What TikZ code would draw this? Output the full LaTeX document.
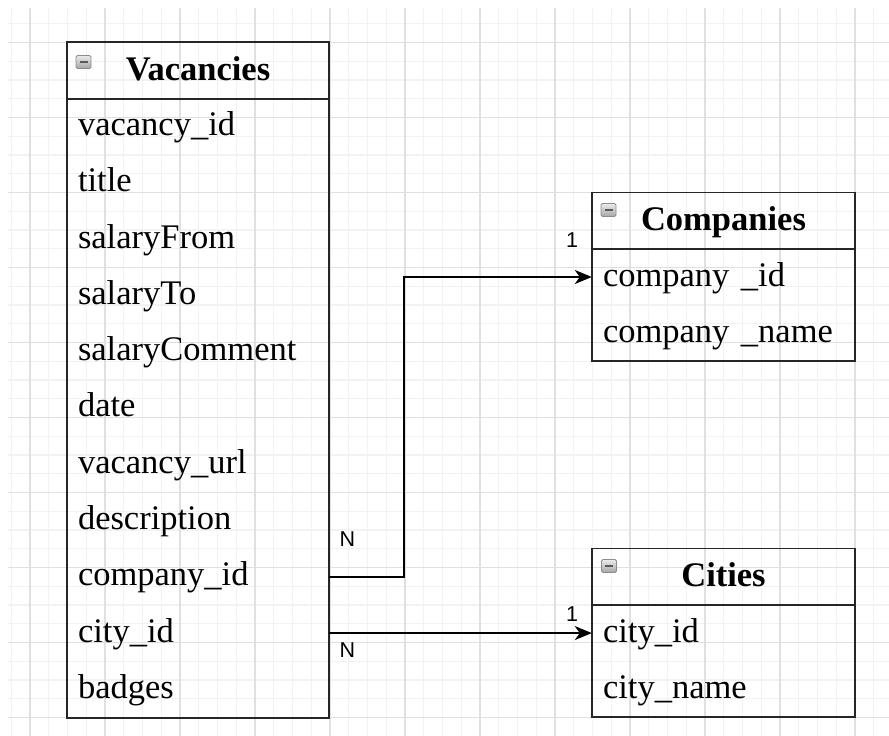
\documentclass[tikz,border=0pt]{standalone}
\usepackage{fontspec}
\setmainfont{Liberation Serif}
\newfontfamily\lblfont{Liberation Sans}
\usetikzlibrary{arrows.meta}
\tikzset{
  gridminor/.style={draw=black!5, line width=1.2pt},
  gridmajor/.style={draw=black!12, line width=1.2pt},
  entity/.style={draw=black!85, line width=1.8pt},
  hdr/.style={minimum height=56pt, inner sep=0pt, text height=28pt, text depth=8pt,
    font=\fontsize{34.5}{40}\selectfont\bfseries},
  fieldrow/.style={minimum height=56.27pt, inner ysep=0pt, inner xsep=11pt,
    text height=26pt, text depth=8pt, align=left, font=\fontsize{34.5}{40}\selectfont},
  conn/.style={line width=1.8pt, draw=black, -{Stealth[length=17pt,width=14pt,inset=5pt]}},
  card/.style={inner sep=0pt, font=\lblfont\fontsize{21.5}{24}\selectfont},
  icon/.style={rectangle, rounded corners=1.5pt, minimum width=15pt, minimum height=13pt,
    inner sep=0pt, draw=black!45, line width=0.8pt, top color=black!8, bottom color=black!35,
    path picture={\draw[line width=2pt, black!65]
      ([xshift=-4pt]path picture bounding box.center) -- ([xshift=4pt]path picture bounding box.center);}}
}
\begin{document}
\begin{tikzpicture}[x=1pt, y=-1pt]
\useasboundingbox (0,0) rectangle (889,736);
\fill[white] (0,0) rectangle (889,736);
% grid
\foreach \i in {0,...,46} \draw[gridminor] ({11.25+18.75*\i},8) -- ({11.25+18.75*\i},736);
\foreach \j in {0,...,37} \draw[gridminor] (8,{23.75+18.75*\j}) -- (889,{23.75+18.75*\j});
\foreach \k in {0,...,11} \draw[gridmajor] ({30+75*\k},8) -- ({30+75*\k},736);
\foreach \k in {0,...,9} \draw[gridmajor] (8,{42.5+75*\k}) -- (889,{42.5+75*\k});

% Vacancies
\node[hdr, minimum width=262pt] (vh) at (198,70.5) {Vacancies};
\foreach \t [count=\n] in {vacancy\_id, title, salaryFrom, salaryTo, salaryComment, date,
  vacancy\_url, description, company\_id, city\_id, badges}
  \node[fieldrow, text width=240pt] (v\n) at (198,{98.5+(\n-0.5)*56.27}) {\t};
\draw[entity] (vh.north west) rectangle (v11.south east);
\draw[entity] (vh.south west) -- (vh.south east);
\node[icon] (vi) at (83.5,62) {};

% Companies
\node[hdr, minimum width=263pt] (ch) at (723.5,220.75) {Companies};
\node[fieldrow, minimum height=56pt, text width=241pt] (c1) at (723.5,277) {company \_id};
\node[fieldrow, minimum height=56pt, text width=241pt] (c2) at (723.5,333) {company \_name};
\draw[entity] (ch.north west) rectangle (c2.south east);
\draw[entity] (ch.south west) -- (ch.south east);
\node[icon] (ci) at (608.5,210) {};

% Cities
\node[hdr, minimum width=263pt] (th) at (723.5,576.75) {Cities};
\node[fieldrow, minimum height=56pt, text width=241pt] (t1) at (723.5,633) {city\_id};
\node[fieldrow, minimum height=56pt, text width=241pt] (t2) at (723.5,689) {city\_name};
\draw[entity] (th.north west) rectangle (t2.south east);
\draw[entity] (th.south west) -- (th.south east);
\node[icon] (ti) at (609,566) {};

% connectors
\coordinate (bend) at (404,400);
\draw[conn] (v9.east) -- (bend |- v9.east) |- (c1.west);
\draw[conn] (v10.east) -- (v10.east -| t1.west);

% cardinalities
\node[card] (n1) at (347.5,539.5) {N};
\node[card] (n2) at (347.5,650.5) {N};
\node[card] (o1) at (572,240) {1};
\node[card] (o2) at (572,614) {1};
\end{tikzpicture}
\end{document}
